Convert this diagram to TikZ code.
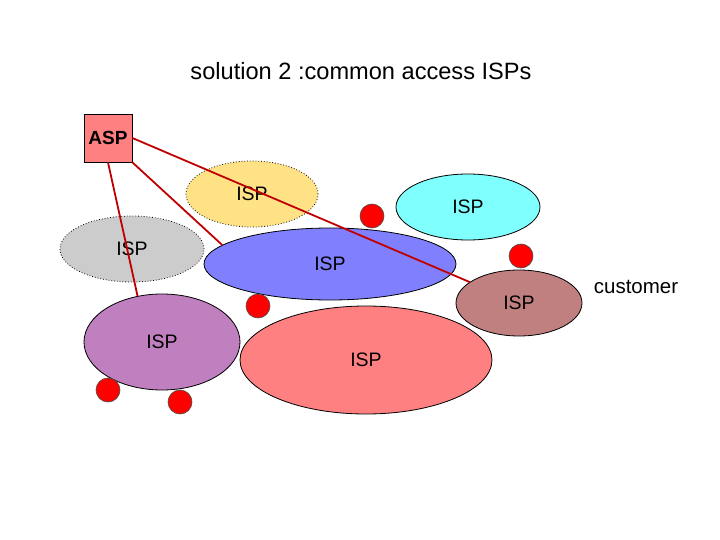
\documentclass[tikz,border=0pt]{standalone}
\usepackage{fontspec}
\setmainfont{Liberation Sans}
\usetikzlibrary{shapes.geometric}
\definecolor{cYel}{HTML}{FFE285}
\definecolor{cGry}{HTML}{CCCCCC}
\definecolor{cBlu}{HTML}{8080FF}
\definecolor{cCya}{HTML}{80FFFF}
\definecolor{cBrn}{HTML}{C08080}
\definecolor{cPur}{HTML}{C080C0}
\definecolor{cPnk}{HTML}{FF8080}
\definecolor{cLin}{HTML}{C00000}
\tikzset{
  isp/.style={ellipse, draw=black, line width=0.8pt, inner sep=0pt,
    font=\fontsize{19.5}{19.5}\selectfont},
  dotb/.style={dotted},
  cust/.style={circle, fill=red, draw=black!70, line width=0.6pt, minimum size=24pt, inner sep=0pt},
  link/.style={draw=cLin, line width=1.8pt},
}
\begin{document}
\begin{tikzpicture}[x=1pt,y=-1pt]
\useasboundingbox (0,0) rectangle (720,540);
\node[font=\fontsize{23.6}{23.6}\selectfont] (title) at (361,71) {solution 2 :common access ISPs};
\node[draw=black, fill=cPnk, line width=0.8pt, minimum size=48pt, inner sep=0pt,
  font=\fontsize{19}{19}\selectfont\bfseries] (asp) at (108,138) {ASP};
\node[isp, dotb, fill=cYel, minimum width=132pt, minimum height=66pt] (yel) at (252,194) {ISP};
\node[isp, dotb, fill=cGry, minimum width=144pt, minimum height=66pt] (gry) at (132,249) {ISP};
\node[isp, fill=cCya, minimum width=144pt, minimum height=66pt] (cya) at (468,207) {ISP};
\node[isp, fill=cBlu, minimum width=252pt, minimum height=72pt] (blu) at (330,264) {ISP};
\node[isp, fill=cBrn, minimum width=126pt, minimum height=66pt] (brn) at (519,303) {ISP};
\node[isp, fill=cPur, minimum width=156pt, minimum height=96pt] (pur) at (162,342) {ISP};
\node[isp, fill=cPnk, minimum width=252pt, minimum height=108pt] (pnk) at (366,360) {ISP};
\node[cust] (c1) at (372,216) {};
\node[cust] (c2) at (521,256) {};
\node[cust] (c3) at (258,306) {};
\node[cust] (c4) at (108,390) {};
\node[cust] (c5) at (180,402) {};
\node[font=\fontsize{20.5}{20.5}\selectfont] (custlbl) at (636,287) {customer};
\draw[link] (asp.east) -- (brn.157.6);
\draw[link] (asp.south east) -- (blu.170);
\draw[link] (asp.south) -- (pur.118);
\end{tikzpicture}
\end{document}
